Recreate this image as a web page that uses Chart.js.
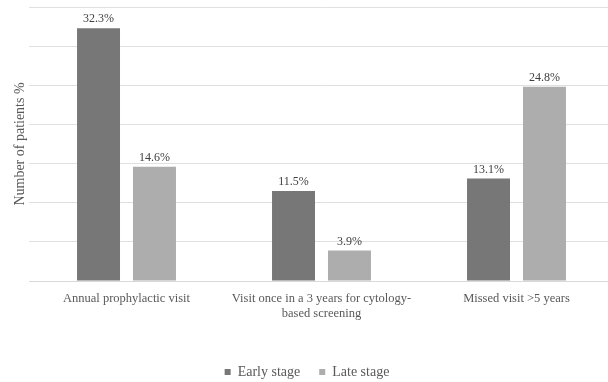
<!DOCTYPE html>
<html>
<head>
<meta charset="utf-8">
<script src="https://cdn.jsdelivr.net/npm/chart.js@4/dist/chart.umd.min.js"></script>
<style>
  html, body { margin: 0; padding: 0; background: #ffffff; overflow: hidden; }
  #wrap { width: 614px; height: 382px; }
</style>
</head>
<body>
<div id="wrap"><canvas id="c" width="614" height="382"></canvas></div>
<script>
// Screening visit pattern by cancer stage
const categories = [
  'Annual prophylactic visit',
  ['Visit once in a 3 years for cytology-', 'based screening'],
  'Missed visit >5 years'
];
const earlyStage = [32.3, 11.5, 13.1];
const lateStage = [14.6, 3.9, 24.8];
const seriesNames = ['Early stage', 'Late stage'];
const yTicks = [0, 5, 10, 15, 20, 25, 30, 35];

const serif = "'Liberation Serif', 'DejaVu Serif', serif";

// Percentage labels above every bar
const valueLabels = {
  id: 'valueLabels',
  afterDatasetsDraw(chart) {
    const ctx = chart.ctx;
    ctx.save();
    ctx.font = '12px ' + serif;
    ctx.fillStyle = '#404040';
    ctx.textAlign = 'center';
    ctx.textBaseline = 'bottom';
    chart.data.datasets.forEach((ds, i) => {
      chart.getDatasetMeta(i).data.forEach((bar, j) => {
        ctx.fillText(ds.data[j].toFixed(1) + '%', bar.x, bar.y - 3);
      });
    });
    ctx.restore();
  }
};

new Chart(document.getElementById('c'), {
  type: 'bar',
  data: {
    labels: categories,
    datasets: [
      { label: seriesNames[0], data: earlyStage, backgroundColor: '#777777' },
      { label: seriesNames[1], data: lateStage, backgroundColor: '#adadad' }
    ]
  },
  options: {
    responsive: false,
    animation: false,
    devicePixelRatio: 1,
    // the legend's lower padding runs slightly past the canvas edge
    layout: { padding: { top: 7, right: 0, bottom: -7, left: 0 } },
    categoryPercentage: 0.574,
    barPercentage: 0.768,
    plugins: {
      legend: {
        position: 'bottom',
        labels: {
          font: { family: serif, size: 14 },
          color: '#595959',
          boxWidth: 6,
          boxHeight: 6,
          padding: 19
        }
      },
      tooltip: { enabled: false }
    },
    scales: {
      x: {
        grid: { display: false },
        border: { display: true, color: '#d9d9d9' },
        ticks: {
          font: { family: serif, size: 12.5 },
          color: '#595959',
          maxRotation: 0,
          autoSkip: false,
          padding: 2
        },
        afterFit(scale) { scale.height = 65; }
      },
      y: {
        min: 0,
        max: 35,
        afterBuildTicks(scale) { scale.ticks = yTicks.map(v => ({ value: v })); },
        grid: { color: '#e0e0e0', drawTicks: false },
        border: { display: false },
        ticks: { display: false },
        title: {
          display: true,
          text: 'Number of patients %',
          font: { family: serif, size: 14 },
          color: '#595959',
          padding: { top: 12, bottom: 0 }
        },
        afterFit(scale) { scale.width = 29; }
      }
    }
  },
  plugins: [valueLabels]
});
</script>
</body>
</html>
